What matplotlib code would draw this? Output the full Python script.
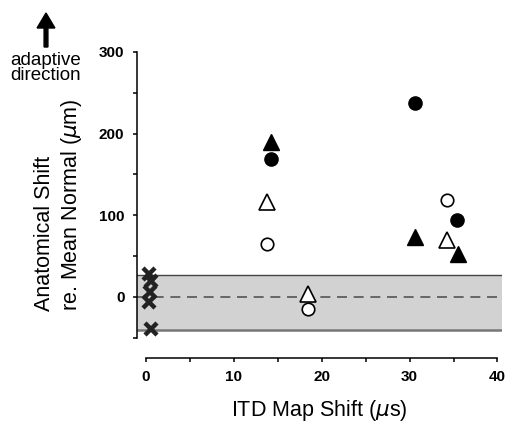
import numpy as np
import matplotlib
matplotlib.use('Agg')
import matplotlib.pyplot as plt

plt.rcParams['font.family'] = ['Liberation Sans', 'DejaVu Sans']

# filled triangles
ft_x = [14.3, 30.6, 35.5]
ft_y = [190, 73, 53]
# filled circles
fc_x = [14.3, 30.6, 35.4]
fc_y = [169, 238, 94]
# open triangles
ot_x = [13.75, 18.5, 34.3]
ot_y = [116, 3, 70]
# open circles
oc_x = [13.75, 18.5, 34.3]
oc_y = [65, -15, 118]
# x marks (controls)
xm_x = [0.4, 0.6, 0.5, 0.4, 0.6]
xm_y = [28, 19, 6, -6, -40]

band_lo, band_hi = -41, 27

fig = plt.figure(figsize=(5.09, 4.24), dpi=100)
ax = fig.add_axes([0.269, 0.1557, 0.717, 0.741])

ax.axhspan(band_lo, band_hi, facecolor='#d2d2d2', edgecolor='none', zorder=0)
ax.axhline(band_hi, color='#444444', lw=1.0, zorder=1)
ax.axhline(band_lo, color='#777777', lw=1.8, zorder=1)
ax.axhline(0, color='#555555', lw=1.2, ls=(0, (6, 4)), zorder=1)

ax.plot(xm_x, xm_y, 'x', color='#222222', ms=9, mew=3.2, zorder=3)
ax.plot(ft_x, ft_y, '^', color='black', ms=11, zorder=3)
ax.plot(fc_x, fc_y, 'o', color='black', ms=9.5, zorder=3)
ax.plot(ot_x, ot_y, '^', mfc='white', mec='black', mew=1.2, ms=11, zorder=3)
ax.plot(oc_x, oc_y, 'o', mfc='white', mec='black', mew=1.2, ms=9, zorder=3)

ax.set_xlim(-1, 40.5)
ax.set_ylim(-75, 310)
ax.spines['top'].set_visible(False)
ax.spines['right'].set_visible(False)
ax.spines['left'].set_bounds(-50, 300)
ax.spines['bottom'].set_bounds(0, 40)
ax.spines['left'].set_linewidth(1.1)
ax.spines['bottom'].set_linewidth(1.1)

ax.set_xticks([0, 10, 20, 30, 40])
ax.set_xticks([5, 15, 25, 35], minor=True)
ax.set_yticks([0, 100, 200, 300])
ax.set_yticks([-50, 50, 150, 250], minor=True)
ax.tick_params(which='both', direction='out', width=1.1, length=3)
ax.tick_params(which='major', labelsize=11, pad=6)
for lab in ax.get_xticklabels() + ax.get_yticklabels():
    lab.set_fontweight('bold')

ax.set_xlabel('ITD Map Shift ($\\mu$s)', fontsize=15.5, labelpad=10)
ax.set_ylabel('Anatomical Shift\nre. Mean Normal ($\\mu$m)', fontsize=15.5, labelpad=11,
              multialignment='left')
ax.yaxis.set_label_coords(-0.145, 0.487)

# adaptive direction arrow
fig.patches.append(matplotlib.patches.FancyArrow(46/509, 1-47/424, 0, 34/424, width=0.0075,
                   head_width=0.035, head_length=15/424, length_includes_head=True,
                   color='black', transform=fig.transFigure))
fig.text(46/509, 1-68/424, 'adaptive\ndirection', ha='center', va='center', fontsize=13.5, linespacing=0.85)

fig.savefig('out.png', dpi=100)
